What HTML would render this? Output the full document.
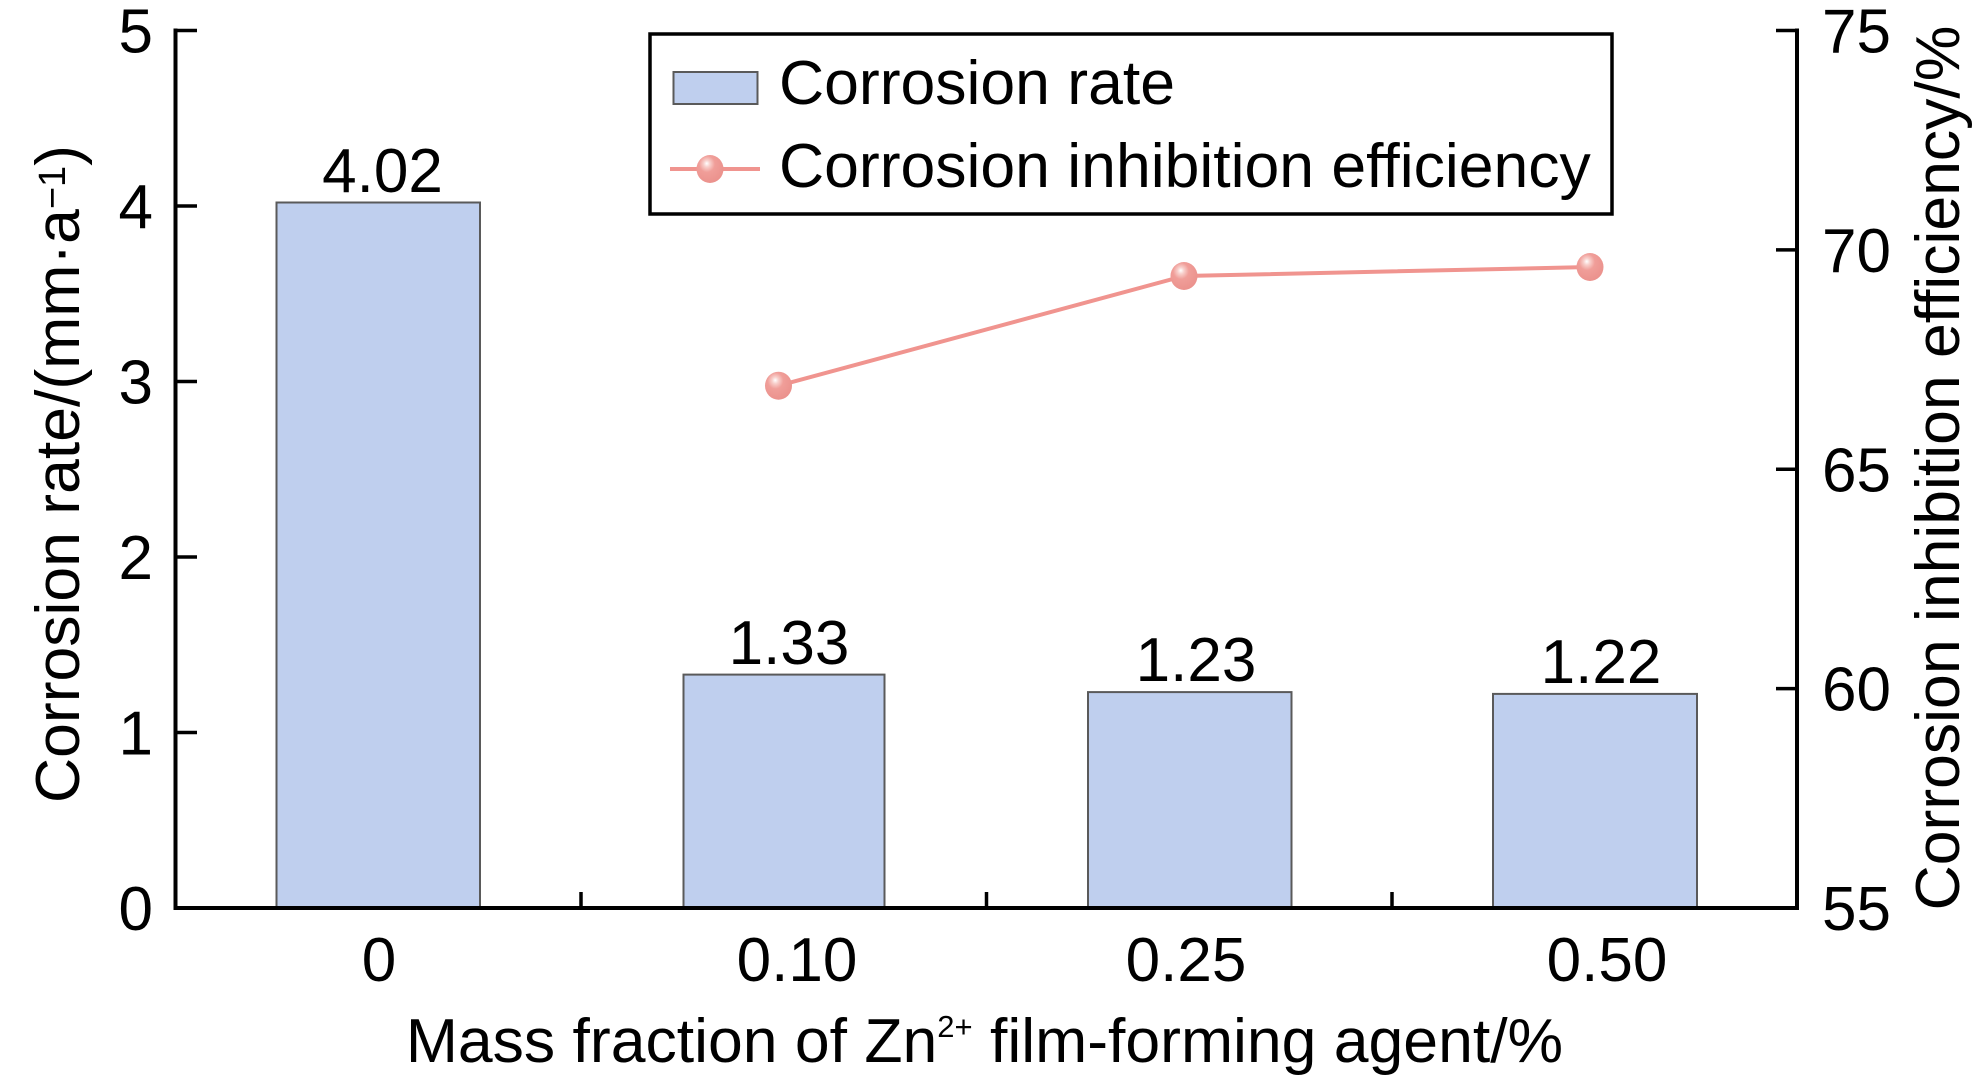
<!DOCTYPE html>
<html>
<head>
<meta charset="utf-8">
<style>
  html, body { margin: 0; padding: 0; background: #ffffff; }
  svg { display: block; }
  text { font-family: "Liberation Sans", Arial, sans-serif; fill: #000; }
</style>
</head>
<body>
<svg width="1979" height="1083" viewBox="0 0 1979 1083" xmlns="http://www.w3.org/2000/svg">
  <defs>
    <radialGradient id="ball" cx="0.4" cy="0.35" r="0.65" fx="0.38" fy="0.3">
      <stop offset="0" stop-color="#ffffff"/>
      <stop offset="0.18" stop-color="#f8d0cc"/>
      <stop offset="0.45" stop-color="#f09e99"/>
      <stop offset="1" stop-color="#eb928d"/>
    </radialGradient>
  </defs>
  <rect x="0" y="0" width="1979" height="1083" fill="#ffffff"/>

  <!-- Bars -->
  <g fill="#bfcfee" stroke="#5a5a5a" stroke-width="2">
    <rect x="276.5" y="202.5" width="203.5" height="705.5"/>
    <rect x="683.5" y="674.6" width="201" height="233.4"/>
    <rect x="1088" y="692.1" width="203.5" height="215.9"/>
    <rect x="1493" y="693.9" width="204" height="214.1"/>
  </g>

  <!-- Bar value labels -->
  <g font-size="62" text-anchor="middle">
    <text x="382.5" y="192">4.02</text>
    <text x="789" y="664">1.33</text>
    <text x="1196" y="681">1.23</text>
    <text x="1601" y="683">1.22</text>
  </g>

  <!-- Axes -->
  <g stroke="#000" stroke-width="4" fill="none" stroke-linecap="square">
    <line x1="175.5" y1="30.5" x2="175.5" y2="908"/>
    <line x1="175.5" y1="908" x2="1797" y2="908"/>
    <line x1="1797" y1="30.5" x2="1797" y2="908"/>
  </g>
  <!-- Ticks -->
  <g stroke="#000" stroke-width="3.5">
    <line x1="175.5" y1="30.5" x2="197" y2="30.5"/>
    <line x1="175.5" y1="206" x2="197" y2="206"/>
    <line x1="175.5" y1="381.5" x2="197" y2="381.5"/>
    <line x1="175.5" y1="557" x2="197" y2="557"/>
    <line x1="175.5" y1="732.5" x2="197" y2="732.5"/>
    <line x1="1776" y1="30.5" x2="1797" y2="30.5"/>
    <line x1="1776" y1="249.9" x2="1797" y2="249.9"/>
    <line x1="1776" y1="469.3" x2="1797" y2="469.3"/>
    <line x1="1776" y1="688.6" x2="1797" y2="688.6"/>
    <line x1="581" y1="908" x2="581" y2="892"/>
    <line x1="986.5" y1="908" x2="986.5" y2="892"/>
    <line x1="1392" y1="908" x2="1392" y2="892"/>
  </g>

  <!-- Left tick labels -->
  <g font-size="62" text-anchor="end">
    <text x="153" y="52.5">5</text>
    <text x="153" y="228">4</text>
    <text x="153" y="403.5">3</text>
    <text x="153" y="579">2</text>
    <text x="153" y="754.5">1</text>
    <text x="153" y="930">0</text>
  </g>

  <!-- Right tick labels -->
  <g font-size="62" text-anchor="start">
    <text x="1822" y="52.5">75</text>
    <text x="1822" y="272">70</text>
    <text x="1822" y="491.3">65</text>
    <text x="1822" y="710.6">60</text>
    <text x="1822" y="930">55</text>
  </g>

  <!-- X tick labels -->
  <g font-size="62" text-anchor="middle">
    <text x="379" y="981">0</text>
    <text x="797" y="981">0.10</text>
    <text x="1186" y="981">0.25</text>
    <text x="1607" y="981">0.50</text>
  </g>

  <!-- X axis title -->
  <text x="984.5" y="1062" font-size="62.5" text-anchor="middle">Mass fraction of Zn<tspan font-size="31" dy="-25">2+</tspan><tspan dy="25"> film-forming agent/%</tspan></text>

  <!-- Left Y axis title -->
  <text transform="translate(79,474) rotate(-90)" font-size="62.5" text-anchor="middle">Corrosion rate/(mm·a<tspan font-size="38" dy="-14">−1</tspan><tspan dy="14">)</tspan></text>

  <!-- Right Y axis title -->
  <text transform="translate(1959,468) rotate(-90)" font-size="62.5" text-anchor="middle">Corrosion inhibition efficiency/%</text>

  <!-- Line series -->
  <polyline points="778.5,385.7 1184,276 1590,267" fill="none" stroke="#f0948f" stroke-width="4"/>
  <g>
    <ellipse cx="778.5" cy="385.7" rx="13.5" ry="14" fill="url(#ball)"/>
    <ellipse cx="1184" cy="276" rx="13.5" ry="14" fill="url(#ball)"/>
    <ellipse cx="1590" cy="267" rx="13.5" ry="14" fill="url(#ball)"/>
  </g>

  <!-- Legend -->
  <rect x="650" y="34" width="962" height="180" fill="#ffffff" stroke="#000" stroke-width="3.5"/>
  <rect x="673.5" y="72" width="84" height="32" fill="#bfcfee" stroke="#5a5a5a" stroke-width="2"/>
  <text x="779" y="104" font-size="62.5">Corrosion rate</text>
  <line x1="670" y1="169" x2="760" y2="169" stroke="#f0948f" stroke-width="4"/>
  <ellipse cx="710" cy="169" rx="13.5" ry="14" fill="url(#ball)"/>
  <text x="779" y="187" font-size="62.5">Corrosion inhibition efficiency</text>
</svg>
</body>
</html>
